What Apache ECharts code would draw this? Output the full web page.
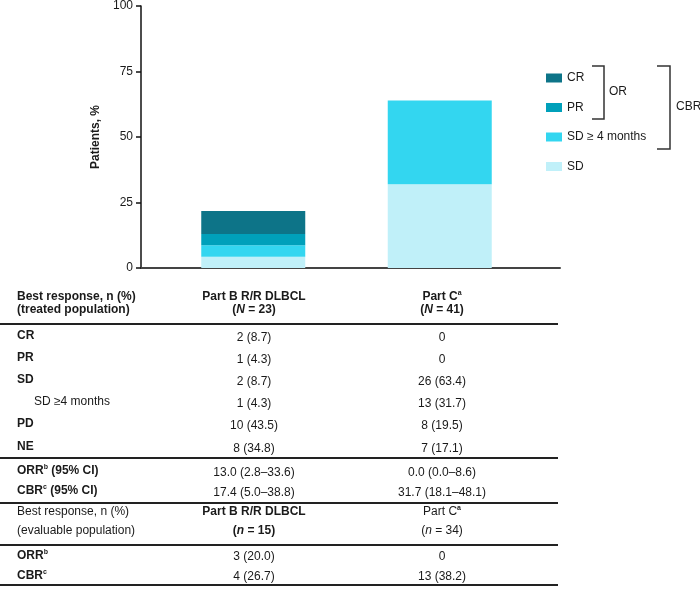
<!DOCTYPE html>
<html>
<head>
<meta charset="utf-8">
<script src="https://cdn.jsdelivr.net/npm/echarts@6/dist/echarts.min.js"></script>
<style>
html,body{margin:0;padding:0;background:#fff;}
#chart{width:700px;height:589px;}
</style>
</head>
<body>
<div id="chart"></div>
<script>
// ---- chart data ----
const categories = ['Part B R/R DLBCL', 'Part C'];
const sdValues = [4.3, 31.7];        // SD (< 4 months)
const sd4Values = [4.3, 31.7];       // SD >= 4 months
const prValues = [4.3, 0];
const crValues = [8.7, 0];
const yTicks = [0, 25, 50, 75, 100];

// ---- table data ----
const treatedN = [23, 41];
const evaluableN = [15, 34];
const rowLabels = ['CR', 'PR', 'SD', 'SD \u22654 months', 'PD', 'NE'];
const rowBold = [true, true, true, false, true, true];
const rowB = ['2 (8.7)', '1 (4.3)', '2 (8.7)', '1 (4.3)', '10 (43.5)', '8 (34.8)'];
const rowC = ['0', '0', '26 (63.4)', '13 (31.7)', '8 (19.5)', '7 (17.1)'];
const rateB = ['13.0 (2.8\u201333.6)', '17.4 (5.0\u201338.8)'];
const rateC = ['0.0 (0.0\u20138.6)', '31.7 (18.1\u201348.1)'];
const evalB = ['3 (20.0)', '4 (26.7)'];
const evalC = ['0', '13 (38.2)'];

const FONT = 'Liberation Sans, Arial, sans-serif';
const TXT = '#1a1a1a';
const colX = [254, 442];
const labelX = 17;

const chart = echarts.init(document.getElementById('chart'));

const rich = {
  b: {fontFamily: FONT, fontSize: 12, fontWeight: 'bold', color: TXT, lineHeight: 14},
  r: {fontFamily: FONT, fontSize: 12, color: TXT, lineHeight: 14},
  bi: {fontFamily: FONT, fontSize: 12, fontWeight: 'bold', fontStyle: 'italic', color: TXT, lineHeight: 14},
  ri: {fontFamily: FONT, fontSize: 12, fontStyle: 'italic', color: TXT, lineHeight: 14},
  sup: {fontFamily: FONT, fontSize: 7, fontWeight: 'bold', color: TXT, lineHeight: 14, verticalAlign: 'top'}
};

function txt(x, y, text, align) {
  return {
    type: 'text', x: x, y: y, silent: true,
    style: {
      text: text, rich: rich,
      align: align || 'left', verticalAlign: 'middle',
      textAlign: align || 'left', textVerticalAlign: 'middle',
      font: '12px ' + FONT, fill: TXT
    }
  };
}
function hline(y) {
  return {type: 'line', silent: true, shape: {x1: 0, y1: y, x2: 558, y2: y}, style: {stroke: '#222', lineWidth: 2}};
}

const graphics = [];
// header (treated)
graphics.push(txt(labelX, 297, '{b|Best response, n (%)}'));
graphics.push(txt(labelX, 310, '{b|(treated population)}'));
graphics.push(txt(colX[0], 297, '{b|' + categories[0] + '}', 'center'));
graphics.push(txt(colX[1], 297, '{b|Part C}{sup|a}', 'center'));
graphics.push(txt(colX[0], 310, '{b|(}{bi|N}{b| = ' + treatedN[0] + ')}', 'center'));
graphics.push(txt(colX[1], 310, '{b|(}{bi|N}{b| = ' + treatedN[1] + ')}', 'center'));
graphics.push(hline(324));
const rowY = [336, 358, 380, 402, 424, 446.5];
rowLabels.forEach((l, i) => {
  graphics.push(txt(rowBold[i] ? labelX : 34, rowY[i], (rowBold[i] ? '{b|' : '{r|') + l + '}'));
  graphics.push(txt(colX[0], rowY[i] + 2, '{r|' + rowB[i] + '}', 'center'));
  graphics.push(txt(colX[1], rowY[i] + 2, '{r|' + rowC[i] + '}', 'center'));
});
graphics.push(hline(458));
const rateY = [470.5, 491];
graphics.push(txt(labelX, rateY[0], '{b|ORR}{sup|b}{b| (95% CI)}'));
graphics.push(txt(labelX, rateY[1], '{b|CBR}{sup|c}{b| (95% CI)}'));
rateB.forEach((v, i) => {
  graphics.push(txt(colX[0], rateY[i] + 2, '{r|' + v + '}', 'center'));
  graphics.push(txt(colX[1], rateY[i] + 2, '{r|' + rateC[i] + '}', 'center'));
});
graphics.push(hline(503));
graphics.push(txt(labelX, 511.5, '{r|Best response, n (%)}'));
graphics.push(txt(labelX, 531, '{r|(evaluable population)}'));
graphics.push(txt(colX[0], 511.5, '{b|' + categories[0] + '}', 'center'));
graphics.push(txt(colX[1], 511.5, '{r|Part C}{sup|a}', 'center'));
graphics.push(txt(colX[0], 531, '{b|(}{bi|n}{b| = ' + evaluableN[0] + ')}', 'center'));
graphics.push(txt(colX[1], 531, '{r|(}{ri|n}{r| = ' + evaluableN[1] + ')}', 'center'));
graphics.push(hline(545));
const evalY = [556, 575.5];
graphics.push(txt(labelX, evalY[0], '{b|ORR}{sup|b}'));
graphics.push(txt(labelX, evalY[1], '{b|CBR}{sup|c}'));
evalB.forEach((v, i) => {
  graphics.push(txt(colX[0], evalY[i] + 1, '{r|' + v + '}', 'center'));
  graphics.push(txt(colX[1], evalY[i] + 1, '{r|' + evalC[i] + '}', 'center'));
});
graphics.push(hline(585));

// brackets
graphics.push({type: 'polyline', silent: true, shape: {points: [[592, 66], [604, 66], [604, 119], [592, 119]]}, style: {stroke: '#333', lineWidth: 1.5, fill: null}});
graphics.push({type: 'polyline', silent: true, shape: {points: [[657, 66], [670, 66], [670, 149], [657, 149]]}, style: {stroke: '#333', lineWidth: 1.5, fill: null}});
graphics.push({type: 'text', x: 609, y: 92, silent: true, style: {text: 'OR', font: '12px ' + FONT, fill: TXT, align: 'left', verticalAlign: 'middle', textAlign: 'left', textVerticalAlign: 'middle'}});
graphics.push({type: 'text', x: 676, y: 107, silent: true, style: {text: 'CBR', font: '12px ' + FONT, fill: TXT, align: 'left', verticalAlign: 'middle', textAlign: 'left', textVerticalAlign: 'middle'}});

const colors = {CR: '#0d7488', PR: '#00a0ba', SD4: '#33d6f0', SD: '#c0f0f9'};
function barSeries(name, data, color) {
  return {name: name, type: 'bar', stack: 'resp', barWidth: 104, data: data,
    xAxisIndex: 1, yAxisIndex: 1,
    itemStyle: {color: color}, emphasis: {disabled: true}, silent: true};
}

chart.setOption({
  animation: false,
  textStyle: {fontFamily: FONT},
  grid: [
    {left: 141, right: 140, top: 4, bottom: 321, containLabel: false},
    {left: 160, right: 167, top: 4, bottom: 321, containLabel: false}
  ],
  legend: {
    orient: 'vertical', left: 546, top: 71, padding: 0,
    itemWidth: 16, itemHeight: 9, itemGap: 15.5, icon: 'rect',
    data: ['CR', 'PR', 'SD \u2265 4 months', 'SD'],
    textStyle: {fontFamily: FONT, fontSize: 12, color: TXT, lineHeight: 14},
    selectedMode: false
  },
  xAxis: [
    {
      gridIndex: 0, type: 'value', min: 0, max: 1,
      axisLine: {show: true, onZero: false, lineStyle: {color: '#444', width: 2}},
      axisTick: {show: false}, axisLabel: {show: false}, splitLine: {show: false}
    },
    {
      gridIndex: 1, type: 'category', data: categories, show: false
    }
  ],
  yAxis: [
    {
      gridIndex: 0, type: 'value', min: yTicks[0], max: yTicks[yTicks.length - 1], interval: 25,
      name: 'Patients, %', nameLocation: 'middle', nameGap: 32, nameRotate: 90,
      nameTextStyle: {fontFamily: FONT, fontSize: 12, fontWeight: 'bold', color: TXT},
      axisLine: {show: true, onZero: false, lineStyle: {color: '#111', width: 1.5}},
      axisTick: {show: true, length: 5, lineStyle: {color: '#111', width: 1.5}},
      axisLabel: {fontFamily: FONT, fontSize: 12, color: TXT, margin: 8},
      splitLine: {show: false}
    },
    {
      gridIndex: 1, type: 'value', min: yTicks[0], max: yTicks[yTicks.length - 1], show: false,
      splitLine: {show: false}
    }
  ],
  series: [
    barSeries('SD', sdValues, colors.SD),
    barSeries('SD \u2265 4 months', sd4Values, colors.SD4),
    barSeries('PR', prValues, colors.PR),
    barSeries('CR', crValues, colors.CR)
  ],
  graphic: {elements: graphics}
});
</script>
</body>
</html>
